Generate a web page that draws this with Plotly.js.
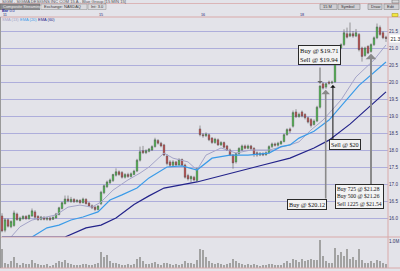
<!DOCTYPE html>
<html><head><meta charset="utf-8">
<script src="https://cdn.plot.ly/plotly-3.0.1.min.js"></script>
<style>html,body{margin:0;padding:0;background:#e3e3e9;overflow:hidden}#chart{width:400px;height:271px}</style>
</head><body><div id="chart"></div>
<script>
// ---- data ----
const opens = [16.06,15.64,15.95,15.74,15.78,16.12,15.93,15.98,16.05,15.98,
16.06,16.18,16.05,15.96,16.02,15.96,16.00,15.96,16.00,16.10,
16.28,16.42,16.56,16.48,16.55,16.48,16.52,16.45,16.55,16.44,
16.36,16.32,16.25,16.42,16.74,16.92,17.04,17.10,17.26,17.36,
17.34,17.20,17.28,17.22,17.28,17.38,17.70,17.98,17.92,17.96,
18.00,18.10,18.28,18.20,18.15,17.82,17.65,17.55,17.65,17.56,
17.72,17.56,17.25,17.15,17.20,17.10,18.62,18.45,18.42,18.45,
18.35,18.22,18.30,18.15,18.22,18.12,18.00,17.85,17.65,17.90,
18.00,18.12,18.05,18.12,18.05,17.92,17.85,17.90,17.86,17.92,
18.10,18.18,18.14,18.18,18.25,18.45,18.62,18.70,19.12,18.98,
19.12,19.05,18.95,18.90,18.75,18.85,19.26,19.95,19.85,20.00,
19.97,20.00,20.55,21.00,21.10,21.42,21.35,21.42,21.35,21.40,
21.00,20.78,21.05,20.90,21.10,21.30,21.60,21.45,21.32];
const highs = [16.14,16.00,15.99,15.93,16.22,16.16,16.04,16.08,16.08,16.10,
16.28,16.23,16.08,16.06,16.05,16.03,16.04,16.05,16.15,16.33,
16.48,16.66,16.66,16.62,16.58,16.56,16.55,16.60,16.58,16.47,
16.40,16.35,16.38,16.80,16.98,17.10,17.16,17.30,17.46,17.40,
17.38,17.32,17.33,17.34,17.42,17.74,18.10,18.12,18.02,18.06,
18.14,18.36,18.32,18.24,18.18,17.88,17.70,17.70,17.68,17.76,
17.75,17.60,17.30,17.25,17.24,17.48,18.72,18.50,18.52,18.48,
18.38,18.36,18.34,18.26,18.25,18.15,18.04,17.88,17.92,18.08,
18.16,18.16,18.16,18.15,18.08,17.96,17.94,17.93,17.96,18.14,
18.22,18.22,18.24,18.28,18.48,18.64,18.66,19.16,19.20,19.10,
19.16,19.08,18.98,18.94,18.90,19.30,19.92,20.00,19.98,20.04,
20.04,20.62,21.04,21.14,21.55,21.60,21.75,21.50,21.56,21.44,
21.04,21.04,21.08,21.14,21.34,21.72,21.66,21.50,21.36];
const lows = [15.58,15.58,15.72,15.70,15.74,15.92,15.90,15.95,15.95,15.95,
16.03,15.98,15.92,15.93,15.93,15.92,15.91,15.94,15.98,16.08,
16.25,16.40,16.46,16.45,16.44,16.45,16.42,16.43,16.40,16.32,
16.26,16.20,16.22,16.38,16.70,16.88,17.00,17.06,17.22,17.24,
17.16,17.16,17.18,17.19,17.26,17.35,17.66,17.88,17.88,17.93,
17.97,18.07,18.16,18.08,17.82,17.55,17.50,17.52,17.52,17.54,
17.52,17.16,17.10,17.04,17.08,17.06,18.40,18.36,18.38,18.26,
18.18,18.18,18.12,18.12,18.05,17.97,17.82,17.45,17.60,17.86,
17.97,18.02,18.02,18.00,17.80,17.80,17.82,17.82,17.83,17.90,
18.06,18.10,18.10,18.15,18.22,18.42,18.50,18.66,18.94,18.95,
18.96,18.90,18.78,18.66,18.72,18.82,19.22,19.78,19.80,19.92,
19.94,19.98,20.52,20.96,21.06,21.28,21.32,21.30,21.32,20.90,
20.60,20.74,20.82,20.86,21.06,21.26,21.36,21.26,21.18];
const closes = [15.62,15.95,15.76,15.90,16.15,15.95,16.00,16.05,15.98,16.08,
16.21,16.02,15.95,16.03,15.96,16.00,15.95,16.02,16.12,16.30,
16.45,16.56,16.50,16.55,16.48,16.52,16.45,16.56,16.42,16.35,
16.30,16.25,16.35,16.76,16.95,17.06,17.12,17.28,17.36,17.28,
17.20,17.28,17.22,17.30,17.38,17.70,17.95,17.92,17.98,18.03,
18.10,18.30,18.20,18.12,17.85,17.60,17.55,17.65,17.56,17.72,
17.55,17.20,17.15,17.22,17.12,17.45,18.45,18.42,18.47,18.30,
18.22,18.32,18.15,18.22,18.08,18.00,17.85,17.62,17.90,18.05,
18.12,18.05,18.12,18.04,17.88,17.85,17.90,17.85,17.92,18.10,
18.18,18.14,18.20,18.25,18.45,18.60,18.56,19.10,18.98,19.05,
19.00,18.95,18.82,18.72,18.85,19.26,19.88,19.82,19.95,19.96,
20.00,20.59,21.00,21.10,21.45,21.32,21.42,21.35,21.45,20.95,
20.75,21.00,20.85,21.10,21.30,21.62,21.40,21.30,21.28];
const volumesK = [700,200,150,250,400,180,120,200,150,130,
280,200,150,110,100,130,90,120,200,250,
220,300,180,150,120,100,110,130,150,120,
100,140,180,600,400,480,250,200,180,150,
120,100,130,110,150,350,400,250,150,130,
180,220,150,120,200,180,130,100,150,120,
140,250,200,180,150,280,700,650,400,250,
200,150,180,130,120,150,180,320,250,180,
150,110,130,100,150,120,90,110,100,160,
130,100,120,110,200,250,200,320,280,220,
350,250,300,350,280,300,1050,450,250,200,
180,750,500,600,450,700,350,400,300,700,
300,200,180,250,200,300,250,200,150];

// moving averages (bar index -> value)
const smaIdx  = [3,6,10,18,22,26,30,33,37,42,46,49,54,57,62,65,68,73,78,83,89,96,99,103,107,113,118,124,128];
const smaVals = [15.44,15.74,15.94,16.09,16.32,16.38,16.32,16.47,16.82,17.12,17.32,17.50,17.91,17.76,17.65,17.41,17.85,18.06,17.91,18.00,18.00,18.15,18.24,18.59,18.88,19.47,20.15,20.65,21.09];
const ema20Idx  = [0,10,15,19,23,27,32,36,40,45,49,55,60,65,70,76,82,89,93,96,99,104,109,113,119,128];
const ema20Vals = [15.44,15.44,15.71,15.79,15.94,16.03,16.18,16.53,16.68,16.88,17.18,17.50,17.53,17.41,17.76,17.85,17.85,17.91,18.10,18.15,18.35,18.55,18.88,19.30,19.90,20.59];
const ema60Idx  = [0,21,28,33,38,44,49,54,65,76,87,96,104,109,116,128];
const ema60Vals = [15.44,15.44,15.71,15.79,16.00,16.40,16.65,16.88,17.06,17.32,17.56,17.76,18.06,18.29,18.76,19.71];

const dayTickIdx  = [0,32,66,99];
const dayTickText = ['11','15','16','18'];
const priceTicks  = [16.0,16.5,17.0,17.5,18.0,18.5,19.0,19.5,20.0,20.5,21.0,21.5];
const volTicks    = [1000];
const volTickText = ['1.0M'];

const tradeIdx  = [106,108,110,123];
const tradeSide = ['down','up','up','up'];
const tradeText = ['Buy @ $19.71<br>Sell @ $19.94','Buy @ $20.12','Sell @ $20',
                   'Buy 725 @ $21.28<br>Buy 500 @ $21.26<br>Sell 1225 @ $21.54'];

const headerTitle = 'SIGM - SIGMA DESIGNS INC COM 15 A - Blue Group [15 MIN 15]';
const legendNames = ['SMA (13)','EMA (20)','EMA (60)'];

// ---- geometry / styles ----
const W=400,H=271,T=17,B=3,R=12;
const plotW=W-R, plotH=H-T-B;
const py = y => (H-B-y)/plotH;   // pixel row -> paper
const pxx = x => x/plotW;        // pixel col -> paper
const BG='#e3e3e9', GRID='#aeaedb', PINK='#d9a9a9';
const maColors=['#a4a4c8','#3a9be8','#23238a'];

const idx = opens.map((_,i)=>i);

const traces = [
  {type:'bar', x:idx, y:volumesK, xaxis:'x', yaxis:'y2', width:0.35,
   marker:{color:'#a2a2a2', line:{width:0}}, hoverinfo:'skip'},
  {type:'scatter', mode:'lines', x:smaIdx, y:smaVals, line:{color:maColors[0], width:1}, hoverinfo:'skip'},
  {type:'scatter', mode:'lines', x:ema20Idx, y:ema20Vals, line:{color:maColors[1], width:1.2}, hoverinfo:'skip'},
  {type:'scatter', mode:'lines', x:ema60Idx, y:ema60Vals, line:{color:maColors[2], width:1.2}, hoverinfo:'skip'},
  {type:'candlestick', x:idx, open:opens, high:highs, low:lows, close:closes,
   xaxis:'x', yaxis:'y', whiskerwidth:0, hoverinfo:'skip',
   increasing:{line:{color:'#5e5e5e', width:0.6}, fillcolor:'#1fd41f'},
   decreasing:{line:{color:'#5e5e5e', width:0.6}, fillcolor:'#e01a1a'}}
];

const shapes = [];
const annotations = [];
function line(x0,y0,x1,y1,color,w){shapes.push({type:'line',xref:'paper',yref:'paper',x0:pxx(x0),x1:pxx(x1),y0:py(y0),y1:py(y1),line:{color:color,width:w||1}});}
function rect(x0,y0,x1,y1,fill,border){shapes.push({type:'rect',xref:'paper',yref:'paper',x0:pxx(x0),x1:pxx(x1),y0:py(y1),y1:py(y0),fillcolor:fill,line:{color:border||fill,width:border?0.6:0}});}
function txt(x,y,t,size,color,opts){annotations.push(Object.assign({xref:'paper',yref:'paper',x:pxx(x),y:py(y),text:t,showarrow:false,xanchor:'left',yanchor:'middle',borderpad:0,font:{family:'Liberation Sans, Arial, sans-serif',size:size,color:color}},opts||{}));}

// frame lines
line(0,3.5,400,3.5,PINK,0.8);
line(0,17,400,17,PINK,1);
line(388,17,388,268,PINK,1);
line(0,237,400,237,PINK,1);
line(0,268,400,268,PINK,1);
line(0.5,17,0.5,268,'#9a9a9a',1);
// header
txt(1,1.6,headerTitle,4.2,'#555');
rect(392,0,399,3,'#d8d8dc','#777');
rect(0,4,40,9.5,'#8a8a8e','#666');
txt(2,6.8,'Composite Streaming',4,'#f0f0f0');
rect(41,4,87,9.5,'#dadade','#999');
txt(43,6.8,'Exchange: NASDAQ',4,'#333');
rect(88,4,106,9.5,'#dadade','#999');
txt(90,6.8,'Int: 3.0',4,'#333');
rect(320,4,337,9.5,'#cfcfd4','#888');
txt(322,6.8,'15 M',4,'#333');
rect(338,4,360,9.5,'#cfcfd4','#888');
txt(340,6.8,'Symbol',4,'#333');
rect(368,4,382,9.5,'#cfcfd4','#888');
txt(370,6.8,'Draw',4,'#333');
rect(384,4,399,9.5,'#cfcfd4','#888');
txt(386,6.8,'Edit',4,'#333');
txt(1,11.0,'<b>Bar</b> 0.0',3.8,'#2a2a9a');
rect(392,13.5,398,16.5,'#f2e640','#b0a020');
// day labels
dayTickIdx.forEach((d,k)=>annotations.push({xref:'x',yref:'paper',x:d,y:py(15.0),text:dayTickText[k],showarrow:false,xanchor:'left',yanchor:'middle',borderpad:0,font:{family:'Liberation Sans, Arial, sans-serif',size:3.8,color:'#2a2a7a'}}));
// legend text
[1,19,37].forEach((x,k)=>txt(x,19.9,legendNames[k],4.0,maColors[k]));
// current price
annotations.push({xref:'paper',yref:'y',x:1.003,y:closes[closes.length-1],text:closes[closes.length-1].toFixed(1),
  showarrow:false,xanchor:'left',yanchor:'middle',bgcolor:'#ffffff',borderpad:0.5,
  font:{family:'Liberation Sans, Arial, sans-serif',size:5,color:'#222'}});

// trade boxes and arrows
const boxPos  = [[105.8,20.78],[101.7,16.41],[114.3,18.15],[119.3,16.62]];
const tailY   = [20.47,16.53,18.26,16.91];
const arrowX  = [0,-0.1,0.3,0];
const arrCol  = ['#6a6a6a','#8a8a8a','#111111','#8a8a8a'];
const arrW    = [1,1.6,1,2];
const boxFont = [6.6,6.2,6.2,5.6];
tradeIdx.forEach((ti,k)=>{
  const head = tradeSide[k]==='down' ? highs[ti]+0.03 : lows[ti]-0.03;
  annotations.push({xref:'x',yref:'y',axref:'x',ayref:'y',x:ti+arrowX[k],y:head,ax:ti+arrowX[k],ay:tailY[k],
    text:'',showarrow:true,arrowhead:1,arrowsize:0.9,arrowwidth:arrW[k],arrowcolor:arrCol[k]});
});
tradeIdx.forEach((ti,k)=>{
  annotations.push({xref:'x',yref:'y',x:boxPos[k][0],y:boxPos[k][1],text:tradeText[k],showarrow:false,
    align:'left',bgcolor:'#f3f3f3',bordercolor:'#2a2a2a',borderwidth:1,borderpad:1,
    font:{family:'Liberation Serif, Times New Roman, serif',size:boxFont[k],color:'#111'}});
});

const layout = {
  width:W, height:H, autosize:false,
  margin:{l:0,r:R,t:T,b:B,pad:0},
  paper_bgcolor:BG, plot_bgcolor:BG,
  showlegend:false, boxgap:0.3, bargap:0,
  xaxis:{range:[-0.667,128.667], showticklabels:false, showgrid:false, zeroline:false, showline:false,
         ticks:'', rangeslider:{visible:false}, fixedrange:true, anchor:'y2'},
  yaxis:{domain:[py(237),1], range:[15.441,21.912], side:'right', tickvals:priceTicks,
         ticktext:priceTicks.map(v=>v.toFixed(1)), showgrid:true, gridcolor:GRID, gridwidth:1,
         zeroline:false, showline:false, ticks:'', anchor:'x',
         tickfont:{family:'Liberation Sans, Arial, sans-serif',size:4.6,color:'#333366'}},
  yaxis2:{domain:[0,py(237)], range:[0,1148], side:'right', tickvals:volTicks, ticktext:volTickText,
          showgrid:false, zeroline:false, showline:false, ticks:'', anchor:'x',
          tickfont:{family:'Liberation Sans, Arial, sans-serif',size:4.6,color:'#333366'}},
  shapes:shapes, annotations:annotations
};
Plotly.newPlot('chart', traces, layout, {staticPlot:true, displayModeBar:false});
</script></body></html>
